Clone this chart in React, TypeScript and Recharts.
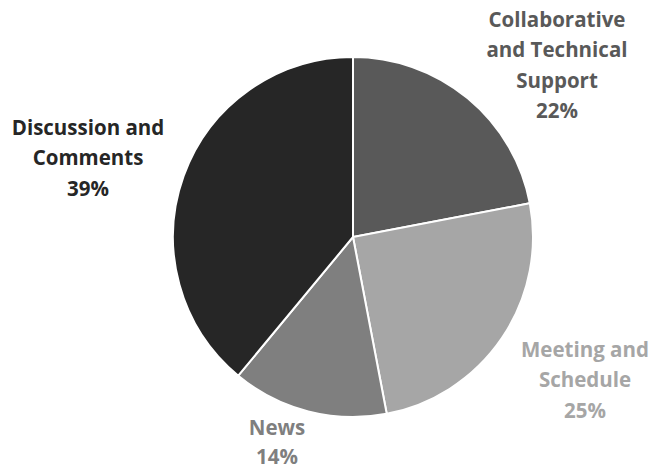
import React from "react";
import { PieChart, Pie, Cell } from "recharts";

const categories = [
  "Collaborative and Technical Support",
  "Meeting and Schedule",
  "News",
  "Discussion and Comments",
];
const values = [22, 25, 14, 39];
const labelLines = [
  ["Collaborative", "and Technical", "Support", "22%"],
  ["Meeting and", "Schedule", "25%"],
  ["News", "14%"],
  ["Discussion and", "Comments", "39%"],
];
const colors = ["#595959", "#a6a6a6", "#7f7f7f", "#262626"];
const textColors = ["#595959", "#a6a6a6", "#7f7f7f", "#262626"];
// label anchor offsets from pie centre (dx, dy of first line baseline), line height
const labelOffsets = [
  [204, -210, 30.3],
  [232, 120, 30.3],
  [-76, 198, 28.5],
  [-265, -102, 30.3],
];

const data = categories.map((name, i) => ({ name, value: values[i] }));

const renderLabel = (props: any) => {
  const { cx, cy, index } = props;
  const [dx, dy, lh] = labelOffsets[index];
  const lines = labelLines[index];
  return (
    <text
      x={cx + dx}
      y={cy + dy}
      textAnchor="middle"
      fill={textColors[index]}
      fontFamily="'Open Sans', sans-serif"
      fontWeight={700}
      fontSize={20.5}
    >
      {lines.map((l, j) => (
        <tspan key={j} x={cx + dx} dy={j === 0 ? 0 : lh}>
          {l}
        </tspan>
      ))}
    </text>
  );
};

export default function App() {
  return (
    <div style={{ position: "absolute", left: 0, top: 0, background: "#fff" }}>
      <PieChart width={653} height={468} margin={{ top: 0, right: 0, bottom: 0, left: 0 }}>
        <Pie
          data={data}
          dataKey="value"
          nameKey="name"
          cx={353}
          cy={237}
          outerRadius={180}
          startAngle={90}
          endAngle={-270}
          stroke="#ffffff"
          strokeWidth={2}
          label={renderLabel}
          labelLine={false}
          isAnimationActive={false}
        >
          {data.map((d, i) => (
            <Cell key={d.name} fill={colors[i]} />
          ))}
        </Pie>
      </PieChart>
    </div>
  );
}
